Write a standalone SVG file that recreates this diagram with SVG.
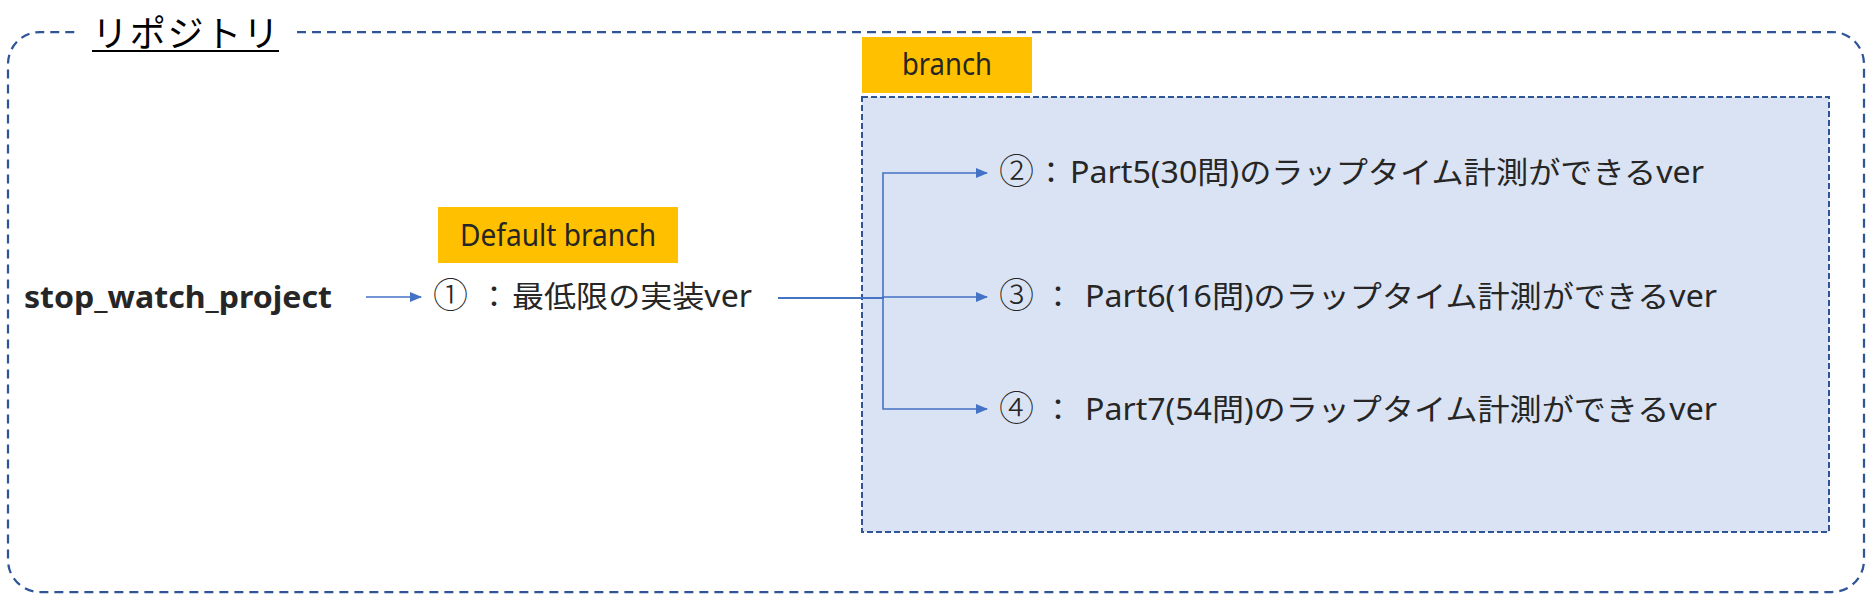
<svg xmlns="http://www.w3.org/2000/svg" width="1867" height="594" viewBox="0 0 1867 594">
<style>
.t{font-family:"Noto Sans","Noto Sans CJK JP",sans-serif;font-size:30px;fill:#262626}
.jp{font-family:"Noto Sans CJK JP","Noto Sans",sans-serif}
.num{font-family:"Noto Sans CJK JP",sans-serif;font-size:35px;font-weight:300}
.conn{fill:none;stroke:#4472C4;stroke-width:1.6}
.tag{fill:#FFC000}
</style>
<defs>
<marker id="ah" markerUnits="userSpaceOnUse" markerWidth="12" markerHeight="12" viewBox="0 0 12 12" refX="11" refY="6" orient="auto">
<path d="M0,1 L12,6 L0,11 Z" fill="#4472C4"/>
</marker>
</defs>
<rect width="1867" height="594" fill="#ffffff"/>
<g id="repository">
<path d="M297,32 H1832 A32,32 0 0 1 1864,64 V560 A32,32 0 0 1 1832,592 H40 A32,32 0 0 1 8,560 V64 A32,32 0 0 1 40,32 H77" fill="none" stroke="#2F5597" stroke-width="2.25" stroke-dasharray="9 6"/>
<text x="92" y="47" class="jp" font-size="36" fill="#000" textLength="187" lengthAdjust="spacing">リポジトリ</text>
<line x1="92" y1="51" x2="279" y2="51" stroke="#000" stroke-width="2"/>
</g>
<g id="branch-area">
<rect x="862" y="97" width="967" height="435" fill="#DAE3F3" stroke="#2F5597" stroke-width="2" stroke-dasharray="6 3"/>
</g>
<g id="branch-label">
<rect class="tag" x="862" y="37" width="170" height="56"/>
<text class="t" x="902" y="75" textLength="90" lengthAdjust="spacingAndGlyphs">branch</text>
</g>
<g id="default-branch-label">
<rect class="tag" x="438" y="207" width="240" height="56"/>
<text class="t" x="460" y="246" textLength="196" lengthAdjust="spacingAndGlyphs">Default branch</text>
</g>
<g id="project">
<text class="t" x="24" y="308" font-weight="bold" fill="#222831" textLength="308" lengthAdjust="spacingAndGlyphs">stop_watch_project</text>
</g>
<g id="v1">
<text class="t" y="308"><tspan class="num" x="433">①</tspan><tspan class="jp" x="479" y="307">：</tspan><tspan x="512" y="307" textLength="240" lengthAdjust="spacingAndGlyphs">最低限の実装ver</tspan></text>
</g>
<g id="v2">
<text class="t" y="184"><tspan class="num" x="999">②</tspan><tspan class="jp" x="1036" y="183">：</tspan><tspan x="1070" y="183" textLength="634" lengthAdjust="spacingAndGlyphs">Part5(30問)のラップタイム計測ができるver</tspan></text>
</g>
<g id="v3">
<text class="t" y="308"><tspan class="num" x="999">③</tspan><tspan class="jp" x="1043" y="307">：</tspan><tspan x="1085" y="307" textLength="632" lengthAdjust="spacingAndGlyphs">Part6(16問)のラップタイム計測ができるver</tspan></text>
</g>
<g id="v4">
<text class="t" y="421"><tspan class="num" x="999">④</tspan><tspan class="jp" x="1043" y="420">：</tspan><tspan x="1085" y="420" textLength="632" lengthAdjust="spacingAndGlyphs">Part7(54問)のラップタイム計測ができるver</tspan></text>
</g>
<g id="connectors">
<path class="conn" d="M366,297 H421" marker-end="url(#ah)"/>
<path class="conn" d="M778,298 H883 V173 H987" marker-end="url(#ah)"/>
<path class="conn" d="M778,298 H883 V297 H987" marker-end="url(#ah)"/>
<path class="conn" d="M778,298 H883 V409 H987" marker-end="url(#ah)"/>
</g>
</svg>
